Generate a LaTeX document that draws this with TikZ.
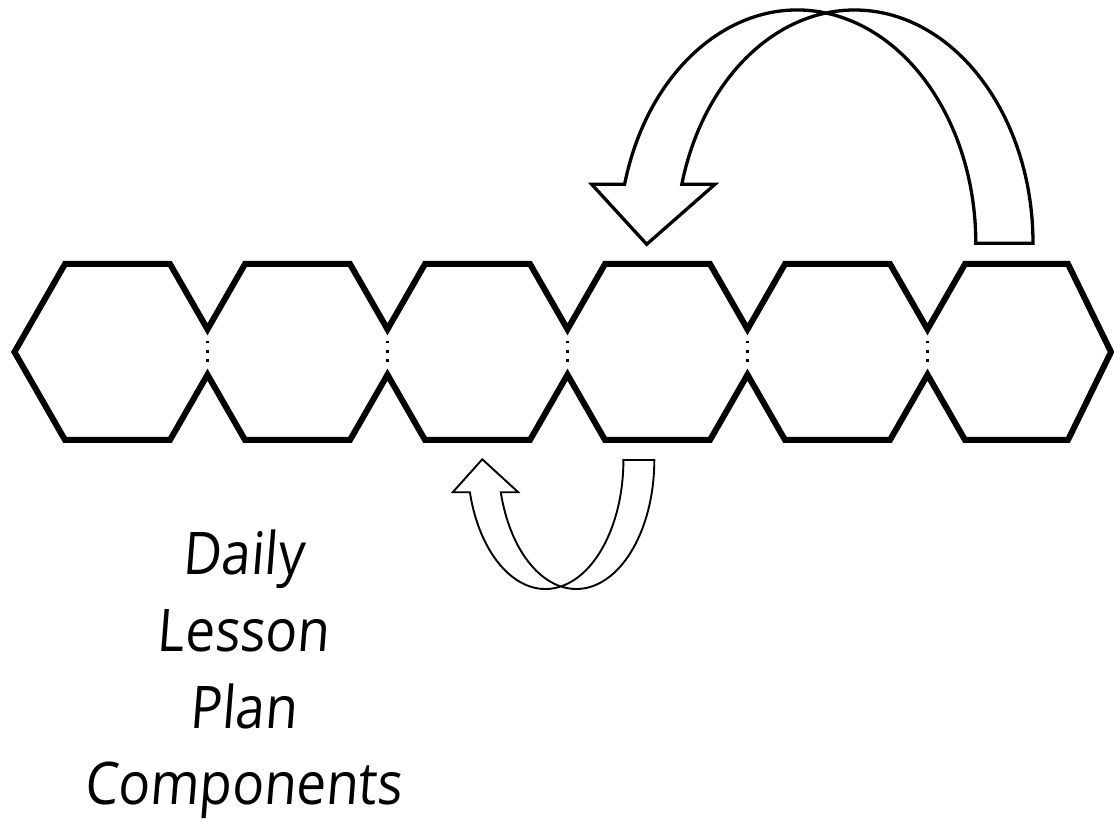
\documentclass[tikz,border=0pt]{standalone}
\usepackage{fontspec}
\usetikzlibrary{positioning}
\newfontfamily\lessonfont[FakeStretch=0.9,FakeSlant=0.08]{Open Sans}

\tikzset{
  hexline/.style={line width=6pt, line join=miter},
  joindots/.style={line width=2.5pt, dash pattern=on 2.5pt off 6.7pt},
  bigarrow/.style={line width=3.3pt, fill=white},
  smallarrow/.style={line width=1.9pt, fill=white},
  lessontext/.style={align=center, inner sep=0pt, anchor=base,
    font=\lessonfont\fontsize{58.8}{76.7}\selectfont}
}

\begin{document}
\begin{tikzpicture}[x=1pt,y=1pt]
  \useasboundingbox (0,0) rectangle (1114,822);

  % row of hexagons, drawn as one outline
  \draw[hexline] (14.5,470)
    foreach \i in {0,...,4} {
      -- ({117.5+180*\i-52.5},558) -- ({117.5+180*\i+52.5},558) -- ({117.5+180*\i+90},492.7)
    }
    -- (965,558) -- (1068,558) -- (1111,470) -- (1068,382) -- (965,382)
    foreach \i in {4,3,...,0} {
      -- ({117.5+180*\i+90},447.3) -- ({117.5+180*\i+52.5},382) -- ({117.5+180*\i-52.5},382)
    }
    -- cycle;

  % dotted joins
  \foreach \i in {0,...,4}
    \draw[joindots] ({117.5+180*\i+90},481) -- ({117.5+180*\i+90},459);

  % big arrow over the top
  \draw[bigarrow] (1033,578.7) arc[start angle=0, end angle=165.35, x radius=178.5, y radius=233.3]
    -- (715,637.7) -- (646.7,577.7) -- (591.7,637.7) -- (624.6,637.7)
    arc[start angle=165.35, end angle=0, x radius=178.5, y radius=233.3] -- cycle;

  % small arrow underneath
  \draw[smallarrow] (654.3,362) arc[start angle=0, end angle=-165.5, x radius=78, y radius=129]
    -- (518.3,329.7) -- (482.3,362.7) -- (452.7,329.7) -- (469.9,329.7)
    arc[start angle=-165.5, end angle=0, x radius=78, y radius=129] -- cycle;

  % label
  \node[lessontext] (title) at (243,17) {Daily\\Lesson\\Plan\\Components};
\end{tikzpicture}
\end{document}
